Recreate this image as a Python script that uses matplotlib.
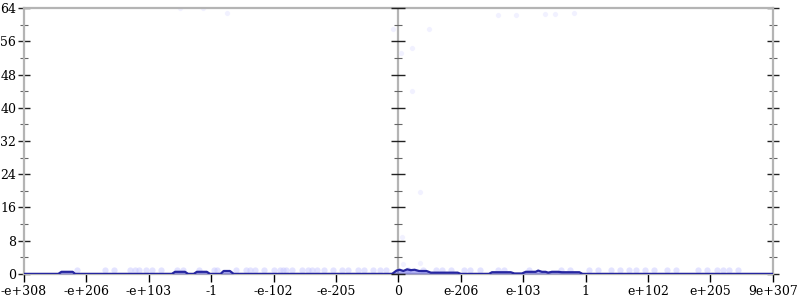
import matplotlib.pyplot as plt
import numpy as np

# x positions are in "tick units": 0 = -e+308 ... 6 = 0 ... 12 = 9e+307
tick_labels = ['-e+308', '-e+206', '-e+103', '-1', '-e-102', '-e-205', '0',
               'e-206', 'e-103', '1', 'e+102', 'e+205', '9e+307']
y_ticks = [0, 8, 16, 24, 32, 40, 48, 56, 64]

# density line
line_x = [0.0, 0.55, 0.60, 0.78, 0.82, 2.37, 2.42, 2.58, 2.63, 2.72, 2.77, 2.93, 2.98,
          3.15, 3.20, 3.30, 3.36, 5.90, 5.97, 6.02, 6.08, 6.14, 6.20, 6.26, 6.33,
          6.45, 6.52, 6.95, 7.00, 7.45, 7.50, 7.80, 7.86, 7.98, 8.04, 8.20, 8.24, 8.30,
          8.36, 8.40, 8.46, 8.56, 8.62, 8.90, 8.95, 12.0]
line_y = [0.0, 0.0, 0.5, 0.5, 0.0, 0.0, 0.5, 0.5, 0.0, 0.0, 0.5, 0.5, 0.0,
          0.0, 0.7, 0.7, 0.0, 0.0, 0.8, 1.0, 0.7, 1.1, 0.9, 1.0, 0.7,
          0.7, 0.3, 0.3, 0.0, 0.0, 0.4, 0.4, 0.1, 0.1, 0.5, 0.5, 0.8, 0.5,
          0.5, 0.3, 0.5, 0.5, 0.4, 0.4, 0.0, 0.0]

# sample points near the baseline
base_x = [0.85, 1.3, 1.45, 1.7, 1.78, 1.85, 1.95, 2.05, 2.2, 2.45, 2.55, 2.8, 3.05, 3.1,
          3.4, 3.55, 3.62, 3.7, 3.85, 4.0, 4.1, 4.15, 4.2, 4.3, 4.45, 4.55, 4.62, 4.7,
          4.8, 4.95, 5.1, 5.2, 5.35, 5.45, 5.6, 5.7, 5.8, 6.15, 6.4, 6.6, 6.7, 6.85,
          7.05, 7.15, 7.3, 7.6, 7.7, 8.1, 8.6, 8.75, 9.05, 9.2, 9.4, 9.55, 9.7, 9.8,
          9.95, 10.1, 10.3, 10.45, 10.8, 10.95, 11.1, 11.2, 11.3, 11.45]
base_y = [1.0, 1.0, 0.9, 1.0, 1.0, 1.0, 0.9, 1.0, 1.0, 1.0, 0.9, 1.0, 1.0, 0.9,
          1.0, 1.0, 0.9, 1.0, 0.9, 1.0, 1.0, 1.0, 0.9, 1.0, 1.0, 0.9, 1.0, 1.0,
          1.0, 0.9, 1.0, 1.0, 1.0, 0.9, 1.0, 1.0, 0.9, 1.0, 1.0, 1.0, 0.9, 1.0,
          1.0, 0.9, 1.0, 1.0, 0.9, 1.0, 1.0, 0.9, 1.0, 1.0, 0.9, 1.0, 1.0, 0.9,
          1.0, 1.0, 0.9, 1.0, 1.0, 0.9, 1.0, 1.0, 0.9, 1.0]

# outlying sample points
out_x = [2.50, 2.87, 3.25, 5.91, 6.49, 6.04, 6.22, 6.22, 6.34, 6.06, 6.34, 6.07,
         7.59, 7.88, 8.35, 8.51, 8.81]
out_y = [64.0, 64.0, 62.8, 58.9, 58.9, 53.2, 54.4, 44.0, 19.7, 8.9, 2.6, 2.4,
         62.3, 62.3, 62.6, 62.6, 62.8]

grey = '#b4b4b4'
plt.rcParams['font.family'] = 'DejaVu Serif'

fig = plt.figure(figsize=(8, 3), dpi=100)
ax = fig.add_axes([0.03, 0.087, 0.936, 0.886])

ax.scatter(base_x, base_y, s=20, color='#c8c8ff', alpha=0.5, linewidths=0, zorder=2)
ax.scatter(out_x, out_y, s=14, color='#ececff', alpha=0.7, linewidths=0, zorder=2)
ax.fill_between(line_x, 0, line_y, color='#6666ee', alpha=0.5, linewidth=0, zorder=3)
ax.plot(line_x, line_y, color='#2626a0', linewidth=1.6, zorder=4)

ax.set_xlim(0, 12)
ax.set_ylim(0, 64)

for s in ax.spines.values():
    s.set_color(grey)
    s.set_linewidth(1.6)
ax.axvline(6, color=grey, linewidth=1.6, zorder=1)

ax.set_xticks(range(13))
ax.set_xticklabels(tick_labels)
ax.set_yticks(y_ticks)
ax.set_yticks(np.arange(4, 64, 8), minor=True)
ax.tick_params(axis='x', direction='out', length=6, width=1, color='black',
               labelsize=9, pad=2)
ax.tick_params(axis='y', which='major', direction='inout', length=9, width=1,
               color='#222222', labelsize=9, pad=1, right=True)
ax.tick_params(axis='y', which='minor', direction='inout', length=6, width=0.8,
               color='#666666', right=True)

# ticks on the centre axis
ax.plot([6] * len(y_ticks), y_ticks, marker='_', markersize=10, color='#222222',
        linestyle='none', markeredgewidth=1, clip_on=False, zorder=5)
ax.plot([6] * 8, list(np.arange(4, 64, 8)), marker='_', markersize=6, color='#666666',
        linestyle='none', markeredgewidth=0.8, clip_on=False, zorder=5)

fig.savefig('out.png', dpi=100)
